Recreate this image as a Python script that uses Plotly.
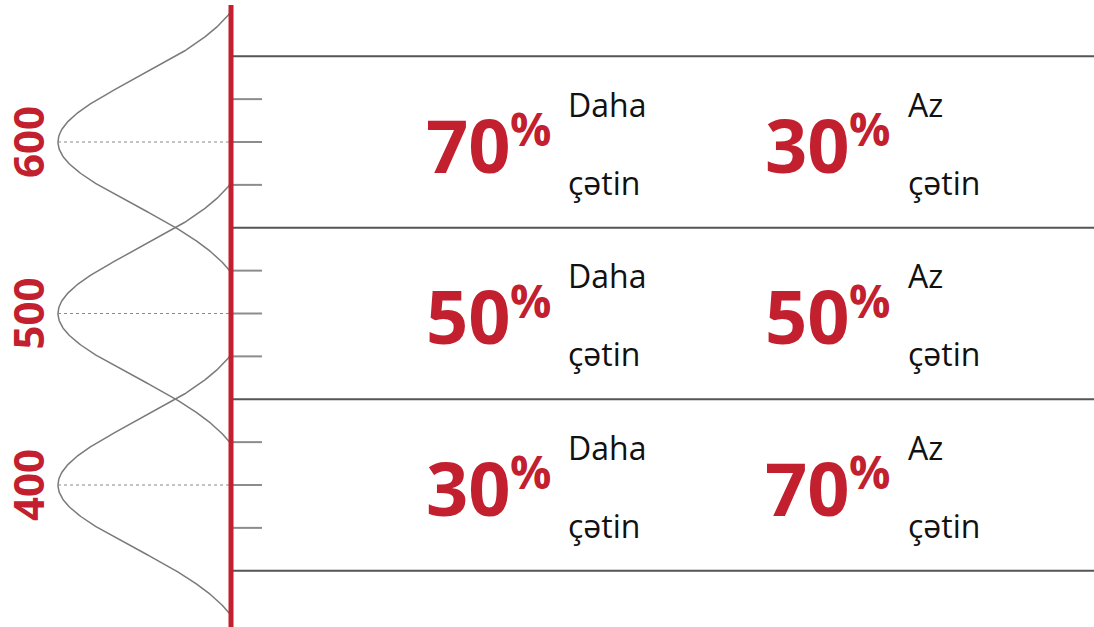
import numpy as np
import plotly.graph_objects as go

# ---- data ----
scores = [600, 500, 400]                 # centre of each distribution
score_labels = ["600", "500", "400"]
more_difficult = [70, 50, 30]            # % "Daha çətin"
less_difficult = [30, 50, 70]            # % "Az çətin"
band_edges = [650, 550, 450, 350]        # horizontal band borders
tick_offsets = [-25, 0, 25]              # small ticks around each score
curve_sd = 37
curve_half_span = 76
more_label = ("Daha", "çətin")
less_label = ("Az", "çətin")

# ---- layout constants ----
PX_PER_PT = 1.715
Y_TOP = 600 + 142 / PX_PER_PT
Y_BOT = 600 - (627 - 142) / PX_PER_PT
AXIS_X = 231
PEAK_X = 58
RED = "#C2202F"
GRAY = "#7a7a7a"


def px2pt(dp):
    return dp / PX_PER_PT


fig = go.Figure()

# bell curves
for m in scores:
    d = np.linspace(-curve_half_span, curve_half_span, 241)
    g = np.exp(-d ** 2 / (2 * curve_sd ** 2))
    g0 = np.exp(-curve_half_span ** 2 / (2 * curve_sd ** 2))
    f = (g - g0) / (1 - g0)
    fig.add_trace(go.Scatter(x=AXIS_X - (AXIS_X - PEAK_X) * f, y=m + d, mode="lines",
                             line=dict(color=GRAY, width=1.5), hoverinfo="skip", showlegend=False))
    # dotted centre line
    fig.add_trace(go.Scatter(x=[PEAK_X, AXIS_X], y=[m, m], mode="lines",
                             line=dict(color="#8a8a8a", width=1.2, dash="dot"),
                             hoverinfo="skip", showlegend=False))
    # ticks
    for t in tick_offsets:
        fig.add_trace(go.Scatter(x=[AXIS_X + 2, 262], y=[m + t, m + t], mode="lines",
                                 line=dict(color="#8c8c8c", width=2),
                                 hoverinfo="skip", showlegend=False))

# band borders
for e in band_edges:
    fig.add_trace(go.Scatter(x=[AXIS_X + 2, 1094], y=[e, e], mode="lines",
                             line=dict(color="#555555", width=2),
                             hoverinfo="skip", showlegend=False))

# red axis
fig.add_trace(go.Scatter(x=[AXIS_X, AXIS_X], y=[600 + px2pt(137), Y_BOT], mode="lines",
                         line=dict(color=RED, width=5), hoverinfo="skip", showlegend=False))

ann = []
for i, m in enumerate(scores):
    ann.append(dict(x=27, y=m, text=score_labels[i], textangle=-90, showarrow=False,
                    xanchor="center", yanchor="middle",
                    font=dict(family="Open Sans", size=42, color=RED, weight="bold")))
    for (val, lab, x_num, x_txt) in [(more_difficult[i], more_label, 513, 566),
                                     (less_difficult[i], less_label, 852, 906)]:
        ann.append(dict(x=x_num, y=m - px2pt(2), text=str(val), showarrow=False,
                        xanchor="right", yanchor="middle",
                        font=dict(family="Open Sans", size=74, color=RED, weight="bold")))
        ann.append(dict(x=x_num - 5, y=m + px2pt(14), text="%", showarrow=False,
                        xanchor="left", yanchor="middle",
                        font=dict(family="Open Sans", size=46, color=RED, weight="bold")))
        ann.append(dict(x=x_txt, y=m + px2pt(38), text=lab[0], showarrow=False,
                        xanchor="left", yanchor="middle",
                        font=dict(family="Open Sans", size=32, color="#111111")))
        ann.append(dict(x=x_txt, y=m - px2pt(40), text=lab[1], showarrow=False,
                        xanchor="left", yanchor="middle",
                        font=dict(family="Open Sans", size=32, color="#111111")))

fig.update_layout(
    width=1094, height=627,
    margin=dict(l=0, r=0, t=0, b=0),
    paper_bgcolor="white", plot_bgcolor="white",
    xaxis=dict(range=[0, 1094], visible=False, fixedrange=True),
    yaxis=dict(range=[Y_BOT, Y_TOP], visible=False, fixedrange=True),
    annotations=ann,
    showlegend=False,
)

fig.write_html("out.html", config={"displayModeBar": False},
               post_script="document.body.style.margin='0';document.body.style.overflow='hidden';")
